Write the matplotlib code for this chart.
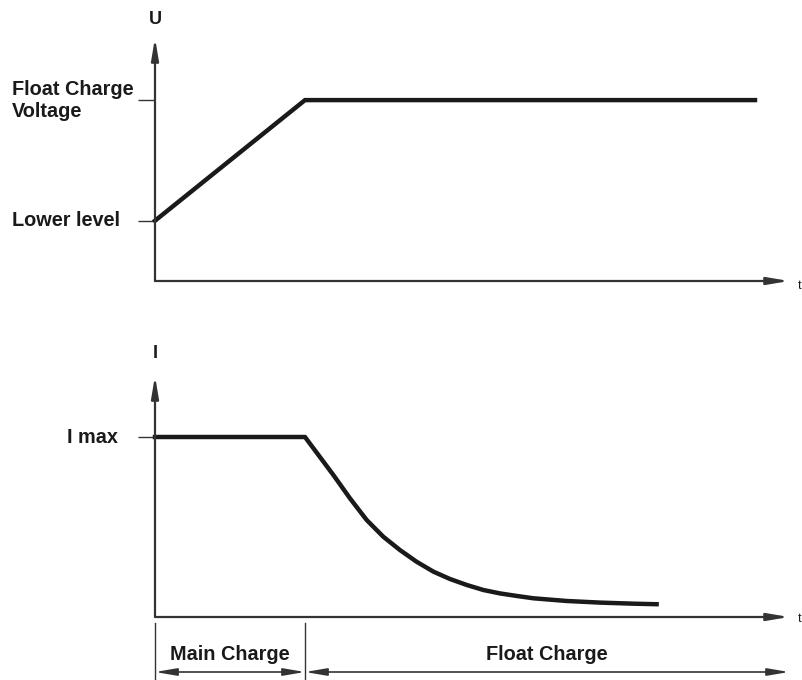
import matplotlib
matplotlib.use("Agg")
import matplotlib.pyplot as plt
import matplotlib.transforms as mtransforms

plt.rcParams['font.family'] = ['Liberation Sans', 'DejaVu Sans']

# time axis: main charge ends at t=1, float charge shown to t=4
voltage_t = [0.0, 1.0, 4.0]
voltage_u = [1.0, 3.0, 3.0]
u_ticks = [1.0, 3.0]
u_labels = ["Lower level", "Float Charge\nVoltage"]

current_t = [0.0, 1.0, 1.189, 1.30, 1.411, 1.522, 1.633, 1.744, 1.856, 1.967, 2.078,
             2.189, 2.30, 2.411, 2.522, 2.744, 2.967, 3.189, 3.344]
current_i = [1.0, 1.0, 0.789, 0.659, 0.539, 0.446, 0.372, 0.307, 0.252, 0.211, 0.178,
             0.150, 0.131, 0.117, 0.104, 0.089, 0.080, 0.074, 0.071]
i_ticks = [1.0]
i_labels = ["I max"]

phase_bounds = [0.0, 1.0, 4.227]
phase_names = ["Main Charge", "Float Charge"]

W, H = 802, 680
fig = plt.figure(figsize=(W / 100, H / 100), dpi=100)

px_t = 150.0     # pixels per time unit
left_px = 155
t_max = (W - left_px) / px_t
axis_tip = 4.227

ink = "#1a1a1a"
axc = "#333333"


def setup(ax, ymax):
    ax.set_xlim(0, t_max)
    ax.set_ylim(0, ymax)
    for s in ax.spines.values():
        s.set_visible(False)
    ax.set_xticks([])
    ax.tick_params(axis='y', length=12.5, width=1.0, color=axc, direction='out', labelleft=False)


def axis_arrows(ax, ytip):
    ap = dict(arrowstyle='-|>,head_length=1.3,head_width=0.22', color=axc, lw=1.6,
              shrinkA=0, shrinkB=0, mutation_scale=10)
    ax.annotate("", xy=(axis_tip, 0), xytext=(0, 0), arrowprops=ap, annotation_clip=False)
    ax.annotate("", xy=(0, ytip), xytext=(0, 0), arrowprops=ap, annotation_clip=False)


# ---- voltage panel ----
u_px = 60.3
top_base = 281
ax1 = fig.add_axes([left_px / W, (H - top_base) / H, (W - left_px) / W, top_base / H])
setup(ax1, top_base / u_px)
ax1.set_yticks(u_ticks)
axis_arrows(ax1, (top_base - 38) / u_px)
ax1.plot(voltage_t, voltage_u, color=ink, lw=3.2, solid_joinstyle='miter', clip_on=False)
tr1 = mtransforms.blended_transform_factory(fig.transFigure, ax1.transData)
for v, lab in zip(u_ticks, u_labels):
    ax1.text(12 / W, v, lab, transform=tr1, ha='left', va='center', fontsize=14.3,
             fontweight='bold', color=ink, linespacing=1.2)
ax1.text(0, (top_base - 19) / u_px, "U", ha='center', va='center', fontsize=13,
         fontweight='bold', color=ink, clip_on=False)
ax1.text(801 / W, -0.08, "t", transform=tr1, ha='right', va='center', fontsize=9,
         color=ink)

# ---- current panel ----
i_px = 180.0
bot_base = 617
ax2 = fig.add_axes([left_px / W, (H - bot_base) / H, (W - left_px) / W, (bot_base - 330) / H])
setup(ax2, (bot_base - 330) / i_px)
ax2.set_yticks(i_ticks)
axis_arrows(ax2, (bot_base - 376) / i_px)
ax2.plot(current_t, current_i, color=ink, lw=3.2, solid_joinstyle='round', clip_on=False)
tr2 = mtransforms.blended_transform_factory(fig.transFigure, ax2.transData)
for v, lab in zip(i_ticks, i_labels):
    ax2.text(118 / W, v, lab, transform=tr2, ha='right', va='center', fontsize=14.3,
             fontweight='bold', color=ink)
ax2.text(0, (bot_base - 353) / i_px, "I", ha='center', va='center', fontsize=13,
         fontweight='bold', color=ink, clip_on=False)
ax2.text(801 / W, -0.01, "t", transform=tr2, ha='right', va='center', fontsize=9,
         color=ink)

# ---- phase dimension lines ----
y_dim = (bot_base - 672) / i_px
y_txt = (bot_base - 655) / i_px
for b in phase_bounds[:2]:
    ax2.plot([b, b], [(bot_base - 623) / i_px, (bot_base - 682) / i_px], color=axc,
             lw=1.0, clip_on=False)
dap = dict(arrowstyle='<|-|>,head_length=1.3,head_width=0.22', color=axc, lw=1.2,
           shrinkA=0, shrinkB=0, mutation_scale=10)
for a, b, name in zip(phase_bounds[:-1], phase_bounds[1:], phase_names):
    ax2.annotate("", xy=(b, y_dim), xytext=(a, y_dim), arrowprops=dap, annotation_clip=False)
    ax2.text((a + b) / 2, y_txt, name, ha='center', va='center', fontsize=14.3,
             fontweight='bold', color=ink, clip_on=False)

fig.savefig("out.png", dpi=100)
